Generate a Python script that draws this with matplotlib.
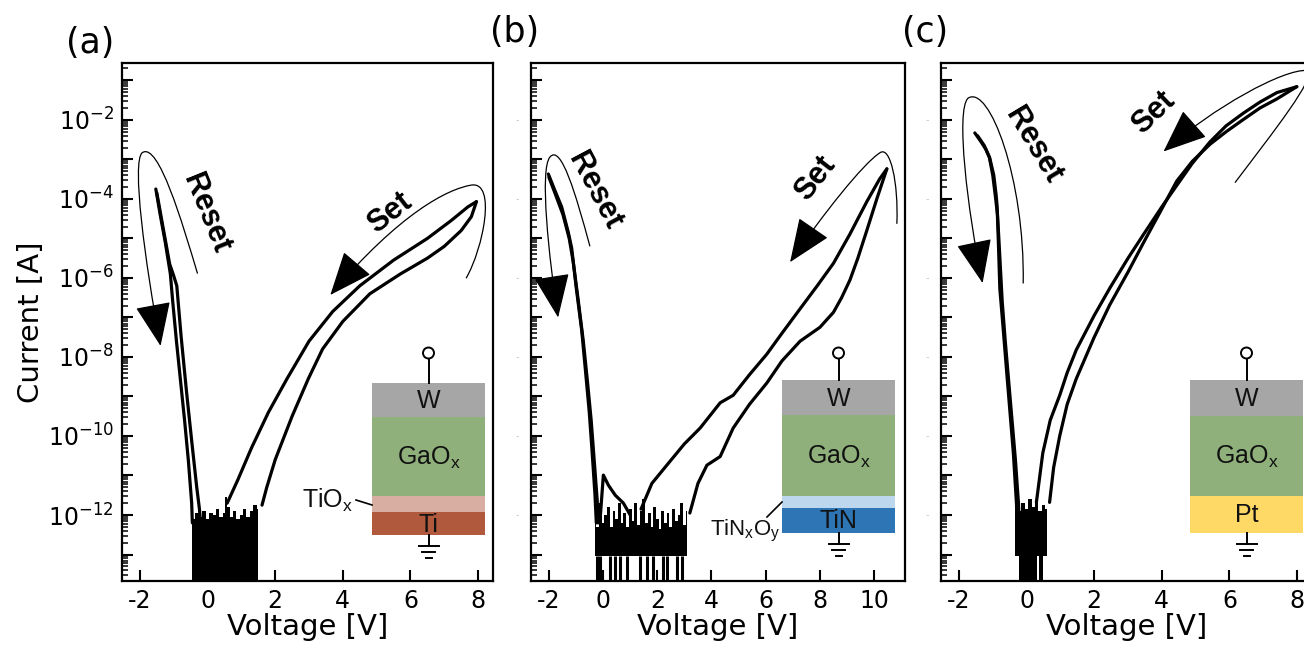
import numpy as np
import matplotlib
matplotlib.use("Agg")
import matplotlib.pyplot as plt
from matplotlib.path import Path
from matplotlib.patches import FancyArrowPatch, Rectangle, Circle
from matplotlib.ticker import LogLocator, FuncFormatter, NullFormatter, FixedLocator
import matplotlib.transforms as mtransforms

plt.rcParams['axes.unicode_minus'] = False
plt.rcParams['font.family'] = 'DejaVu Sans'
plt.rcParams['mathtext.default'] = 'regular'

# ---------------- measured I-V sweeps (voltage in V, log10 of current in A) ----------------
# (a) W / GaOx / TiOx / Ti
a_reset1_v = [-1.53, -1.40, -1.25, -1.10, -1.03, -0.92, -0.80, -0.68, -0.57, -0.47, -0.45]
a_reset1_logi = [-3.75, -4.40, -5.10, -5.90, -6.60, -7.60, -8.60, -9.60, -10.60, -11.70, -12.20]
a_reset2_v = [-1.50, -1.30, -1.12, -1.00, -0.91, -0.78, -0.62, -0.46, -0.32, -0.24, -0.21]
a_reset2_logi = [-3.85, -4.80, -5.65, -5.95, -6.20, -7.50, -8.90, -10.20, -11.30, -11.85, -12.20]
a_set_up_v = [0.58, 0.90, 1.30, 1.80, 2.35, 3.00, 3.70, 4.50, 5.50, 6.50, 7.20, 7.70, 7.95]
a_set_up_logi = [-11.70, -11.10, -10.30, -9.40, -8.55, -7.60, -6.85, -6.20, -5.55, -5.00, -4.55, -4.20, -4.07]
a_set_dn_v = [7.95, 7.80, 7.50, 7.00, 6.50, 5.70, 4.80, 4.00, 3.40, 2.98, 2.50, 2.00, 1.75, 1.61]
a_set_dn_logi = [-4.07, -4.45, -4.80, -5.20, -5.50, -5.90, -6.40, -7.10, -7.80, -8.55, -9.50, -10.60, -11.30, -11.75]
a_noise_v = [-0.47, -0.42, -0.30, -0.20, -0.10, 0.00, 0.10, 0.20, 0.30, 0.40, 0.50, 0.55,
             0.62, 0.70, 0.80, 0.90, 1.00, 1.10, 1.20, 1.30, 1.40, 1.50]
a_noise_top = [-11.85, -12.10, -11.95, -12.05, -11.90, -12.10, -11.95, -12.00, -11.85, -12.05, -11.95,
               -11.55, -11.80, -12.05, -11.90, -12.10, -12.00, -11.85, -12.05, -11.90, -11.75, -11.85]

# (b) W / GaOx / TiNxOy / TiN
b_reset1_v = [-2.02, -1.80, -1.53, -1.29, -1.16, -1.00, -0.79, -0.65, -0.51, -0.40, -0.30, -0.25]
b_reset1_logi = [-3.37, -3.75, -4.20, -4.83, -5.24, -6.20, -7.32, -8.35, -9.40, -10.45, -11.48, -12.20]
b_reset2_v = [-2.00, -1.75, -1.48, -1.25, -1.10, -0.93, -0.73, -0.58, -0.44, -0.33, -0.22, -0.18]
b_reset2_logi = [-3.45, -3.90, -4.40, -5.00, -5.60, -6.50, -7.60, -8.60, -9.60, -10.60, -11.60, -12.20]
b_bump_v = [-0.12, 0.01, 0.20, 0.45, 0.75, 1.00]
b_bump_logi = [-12.20, -10.99, -11.25, -11.50, -11.70, -12.00]
b_set_up_v = [1.40, 1.80, 2.35, 3.00, 3.58, 4.32, 4.80, 5.40, 6.04, 6.60, 7.27, 7.90, 8.50, 9.10, 9.73, 10.20, 10.47]
b_set_up_logi = [-11.85, -11.20, -10.74, -10.20, -9.80, -9.16, -8.97, -8.45, -7.93, -7.40, -6.78, -6.20,
                 -5.63, -4.90, -4.07, -3.50, -3.24]
b_set_dn_v = [10.47, 10.10, 9.73, 9.40, 9.11, 8.80, 8.50, 8.00, 7.27, 6.60, 6.04, 5.40, 4.80, 4.32, 3.83,
              3.50, 3.20]
b_set_dn_logi = [-3.24, -4.00, -4.80, -5.50, -6.05, -6.50, -6.87, -7.25, -7.60, -8.10, -8.66, -9.20, -9.80,
                 -10.52, -10.74, -11.20, -11.95]
b_noise_v = [-0.30, -0.20, -0.10, 0.00, 0.10, 0.20, 0.30, 0.40, 0.50, 0.60, 0.70, 0.80, 0.90, 1.00, 1.10,
             1.20, 1.30, 1.40, 1.50, 1.60, 1.70, 1.80, 1.90, 2.00, 2.10, 2.20, 2.30, 2.40, 2.50, 2.60,
             2.70, 2.80, 2.90, 3.00, 3.10]
b_noise_top = [-11.90, -12.30, -11.70, -12.20, -12.00, -11.80, -12.30, -11.90, -12.10, -11.70, -12.20,
               -11.95, -12.30, -11.85, -12.15, -11.70, -12.25, -11.90, -11.60, -12.20, -11.95, -12.30,
               -11.80, -12.10, -12.35, -11.90, -12.20, -11.95, -12.30, -11.85, -12.15, -12.00, -11.70,
               -12.25, -11.90]
b_noise_floor = -13.05
b_noise_spikes_v = [-0.24, -0.12, 0.25, 0.44, 0.62, 0.87, 1.36, 1.61, 1.85, 2.22, 2.34, 2.71, 2.90]

# (c) W / GaOx / Pt
c_reset1_v = [-1.53, -1.35, -1.20, -1.09, -0.97, -0.90, -0.87, -0.83, -0.79, -0.69, -0.59, -0.49, -0.39,
              -0.30, -0.28]
c_reset1_logi = [-2.33, -2.55, -2.75, -2.96, -3.40, -3.90, -4.20, -5.20, -6.28, -7.30, -8.36, -9.40,
                 -10.44, -11.69, -12.10]
c_reset2_v = [-1.45, -1.25, -1.10, -1.00, -0.92, -0.86, -0.82, -0.77, -0.72, -0.63, -0.53, -0.43, -0.33,
              -0.24, -0.22]
c_reset2_logi = [-2.40, -2.65, -2.95, -3.40, -3.95, -4.40, -5.00, -5.80, -6.60, -7.60, -8.60, -9.60,
                 -10.60, -11.70, -12.10]
c_set_up_v = [0.29, 0.48, 0.70, 0.98, 1.20, 1.47, 2.00, 2.46, 3.00, 3.45, 4.00, 4.44, 4.90, 5.42, 5.90,
              6.41, 6.90, 7.40, 7.99]
c_set_up_logi = [-11.68, -10.43, -9.60, -8.97, -8.40, -7.82, -6.95, -6.26, -5.50, -4.91, -4.20, -3.66,
                 -3.10, -2.56, -2.15, -1.83, -1.55, -1.31, -1.16]
c_set_dn_v = [7.99, 7.40, 6.90, 6.41, 5.90, 5.42, 4.90, 4.44, 4.00, 3.45, 3.00, 2.46, 2.00, 1.47, 1.20,
              0.98, 0.80, 0.68]
c_set_dn_logi = [-1.16, -1.47, -1.70, -1.99, -2.30, -2.62, -3.05, -3.55, -4.25, -5.12, -5.85, -6.68, -7.50,
                 -8.55, -9.20, -10.00, -10.80, -11.68]
c_noise_v = [-0.35, -0.30, -0.20, -0.10, 0.00, 0.10, 0.20, 0.30, 0.40, 0.50, 0.59]
c_noise_top = [-11.80, -11.65, -11.90, -11.70, -11.85, -11.60, -11.80, -11.70, -11.90, -11.75, -11.85]
c_noise_floor = -13.05
c_noise_cols = [(-0.22, 0.31), (0.37, 0.50)]

# ---------------- layout ----------------
FIG_W, FIG_H = 1304, 648
fig = plt.figure(figsize=(FIG_W / 100, FIG_H / 100), dpi=100)

bottom, height = 0.1034, 0.7994
ax_a = fig.add_axes([0.09356, bottom, 0.28451, height])
ax_b = fig.add_axes([0.40721, bottom, 0.28681, height])
ax_c = fig.add_axes([0.72163, bottom, 0.28451, height])

YLIM = (10 ** -13.67, 10 ** -0.56)
FLOOR = 1e-15
LW = 2.3


def cur(logi):
    return 10.0 ** np.asarray(logi, dtype=float)


def style_axes(ax, xticks, xlim, ylabels):
    ax.set_yscale('log')
    ax.set_xlim(*xlim)
    ax.set_ylim(*YLIM)
    for s in ax.spines.values():
        s.set_linewidth(1.6)
    ax.xaxis.set_major_locator(FixedLocator(xticks))
    ax.set_xticklabels([f'{t:d}' for t in xticks])
    ax.yaxis.set_major_locator(LogLocator(base=10, numticks=40))
    ax.yaxis.set_minor_locator(LogLocator(base=10, subs=np.arange(2, 10), numticks=200))
    if ylabels:
        def fmt(val, pos):
            e = int(round(np.log10(val)))
            return f'$10^{{{e}}}$' if e % 2 == 0 else ''
        ax.yaxis.set_major_formatter(FuncFormatter(fmt))
    else:
        ax.yaxis.set_major_formatter(NullFormatter())
    ax.yaxis.set_minor_formatter(NullFormatter())
    ax.tick_params(axis='both', which='major', direction='in', length=8, width=1.5,
                   labelsize=17, top=False, right=False, pad=6)
    ax.tick_params(axis='y', which='minor', direction='in', length=4, width=1.1, right=False)
    ax.tick_params(axis='x', which='minor', bottom=False, top=False)
    ax.set_xlabel('Voltage [V]', fontsize=21, labelpad=0)
    if not ylabels:
        # faint dashes where the decade labels sit
        tr = mtransforms.blended_transform_factory(ax.transAxes, ax.transData)
        for e in range(-12, 0, 2):
            ax.text(-0.037, 10.0 ** e, '-', transform=tr, color='#c4c4c4', fontsize=7,
                    ha='center', va='center')


def draw_line(ax, v, logi):
    ax.plot(v, cur(logi), color='black', lw=LW, solid_joinstyle='round', solid_capstyle='round',
            zorder=3)


def hook_arrow(ax, pts, codes):
    verts = [(v, 10.0 ** l) for v, l in pts]
    arr = FancyArrowPatch(path=Path(verts, codes),
                          arrowstyle='-|>,head_length=28,head_width=11.5',
                          mutation_scale=1, lw=0.9, color='black', shrinkA=0, shrinkB=0,
                          transform=ax.transData, zorder=4)
    ax.add_patch(arr)


def label(ax, v, logi, text, rot, size=22):
    ax.text(v, 10.0 ** logi, text, rotation=rot, rotation_mode='anchor', ha='center', va='center',
            fontsize=size, fontweight='bold', family='Liberation Sans', zorder=5)


C4 = [Path.MOVETO, Path.CURVE4, Path.CURVE4, Path.CURVE4, Path.CURVE4, Path.CURVE4, Path.CURVE4]

# ---- panel (a) ----
style_axes(ax_a, [-2, 0, 2, 4, 6, 8], (-2.53, 8.44), True)
ax_a.set_ylabel('Current [A]', fontsize=21, labelpad=2)
ax_a.fill_between(a_noise_v, cur(a_noise_top), FLOOR, step='mid', color='black', lw=0, zorder=2)
for v, l in [(a_reset1_v, a_reset1_logi), (a_reset2_v, a_reset2_logi),
             (a_set_up_v, a_set_up_logi), (a_set_dn_v, a_set_dn_logi)]:
    draw_line(ax_a, v, l)
hook_arrow(ax_a, [(-0.30, -5.88), (-0.75, -4.6), (-1.45, -2.55), (-1.93, -2.83),
                  (-2.25, -3.05), (-1.85, -5.6), (-1.39, -7.72)], C4)
hook_arrow(ax_a, [(7.65, -6.00), (8.15, -5.25), (8.55, -3.55), (7.80, -3.65),
                  (7.10, -3.75), (5.70, -4.35), (3.63, -6.43)], C4)
label(ax_a, -0.06, -4.36, 'Reset', -68)
label(ax_a, 5.40, -4.36, 'Set', 38)

# ---- panel (b) ----
style_axes(ax_b, [-2, 0, 2, 4, 6, 8, 10], (-2.66, 11.14), False)
ax_b.fill_between(b_noise_v, cur(b_noise_top), 10.0 ** b_noise_floor, step='mid', color='black', lw=0,
                  zorder=2)
ax_b.vlines(b_noise_spikes_v, FLOOR, 10.0 ** b_noise_floor, color='black', lw=2.2, zorder=2)
for v, l in [(b_reset1_v, b_reset1_logi), (b_reset2_v, b_reset2_logi), (b_bump_v, b_bump_logi),
             (b_set_up_v, b_set_up_logi), (b_set_dn_v, b_set_dn_logi)]:
    draw_line(ax_b, v, l)
hook_arrow(ax_b, [(-0.49, -5.19), (-1.0, -3.9), (-1.55, -2.6), (-1.96, -2.94),
                  (-2.35, -3.25), (-2.0, -5.5), (-1.66, -7.0)], C4)
hook_arrow(ax_b, [(10.84, -4.62), (10.9, -3.6), (10.6, -2.65), (10.22, -2.83),
                  (9.6, -3.1), (8.1, -4.4), (6.90, -5.60)], C4)
label(ax_b, -0.30, -3.79, 'Reset', -62)
label(ax_b, 7.82, -3.48, 'Set', 52)

# ---- panel (c) ----
style_axes(ax_c, [-2, 0, 2, 4, 6, 8], (-2.53, 8.44), False)
ax_c.fill_between(c_noise_v, cur(c_noise_top), 10.0 ** c_noise_floor, step='mid', color='black', lw=0,
                  zorder=2)
for lo, hi in c_noise_cols:
    ax_c.fill_between([lo, hi], FLOOR, 10.0 ** c_noise_floor, color='black', lw=0, zorder=2)
for v, l in [(c_reset1_v, c_reset1_logi), (c_reset2_v, c_reset2_logi),
             (c_set_up_v, c_set_up_logi), (c_set_dn_v, c_set_dn_logi)]:
    draw_line(ax_c, v, l)
hook_arrow(ax_c, [(-0.10, -6.13), (-0.05, -3.5), (-1.1, -1.1), (-1.73, -1.45),
                  (-2.1, -1.75), (-1.75, -4.3), (-1.30, -6.13)], C4)
hook_arrow(ax_c, [(6.17, -3.58), (7.3, -2.3), (8.6, -0.9), (8.3, -0.75),
                  (7.6, -0.7), (5.5, -1.7), (4.05, -2.80)], C4)
label(ax_c, 0.20, -2.64, 'Reset', -59)
label(ax_c, 3.75, -1.81, 'Set', 44)

# ---------------- device schematics and panel letters (figure pixels) ----------------
ov = fig.add_axes([0, 0, 1, 1], zorder=10)
ov.set_xlim(0, FIG_W)
ov.set_ylim(FIG_H, 0)
ov.axis('off')

SFONT = dict(family='Liberation Sans', fontsize=18, color='#111111', ha='center', va='center')


def stack(x0, x1, layers, y_circle):
    xc = (x0 + x1) / 2
    for y_top, y_bot, color, text in layers:
        ov.add_patch(Rectangle((x0, y_top), x1 - x0, y_bot - y_top, facecolor=color, edgecolor='none'))
        if text:
            ov.text(xc, (y_top + y_bot) / 2 + 1, text, **SFONT)
    y_top = layers[0][0]
    y_bot = layers[-1][1]
    ov.plot([xc, xc], [y_circle + 5.5, y_top], color='black', lw=1.4)
    ov.add_patch(Circle((xc, y_circle), 5.5, facecolor='white', edgecolor='black', lw=1.4))
    ov.plot([xc, xc], [y_bot, y_bot + 11], color='black', lw=1.4)
    for dy, hw in [(11, 10), (17, 6.5), (23, 3)]:
        ov.plot([xc - hw, xc + hw], [y_bot + dy, y_bot + dy], color='black', lw=1.4)


GAOX = 'GaO$_\\mathregular{x}$'
stack(372, 485, [(383, 417, '#a6a6a6', 'W'), (417, 496, '#8fb07b', GAOX),
                 (496, 512, '#d8aea3', ''), (512, 535, '#b0593c', 'Ti')], 353)
ov.text(353, 500, 'TiO$_\\mathregular{x}$', **{**SFONT, 'ha': 'right'})
ov.plot([356, 372], [500, 505], color='black', lw=1.2)

stack(782, 895, [(380, 415, '#a6a6a6', 'W'), (415, 496, '#8fb07b', GAOX),
                 (496, 508, '#bdd7ee', ''), (508, 533, '#2e75b6', 'TiN')], 353)
ov.text(745, 531, 'TiN$_\\mathregular{x}$O$_\\mathregular{y}$', **{**SFONT, 'fontsize': 16})
ov.plot([767, 782], [517, 502], color='black', lw=1.2)

stack(1190, 1303, [(380, 416, '#a6a6a6', 'W'), (416, 496, '#8fb07b', GAOX),
                   (496, 533, '#ffd966', 'Pt')], 353)

for x, y, t in [(90, 43, '(a)'), (515, 32, '(b)'), (925, 32, '(c)')]:
    ov.text(x, y, t, fontsize=25, ha='center', va='center', color='black')

fig.savefig('out.png', dpi=100)
